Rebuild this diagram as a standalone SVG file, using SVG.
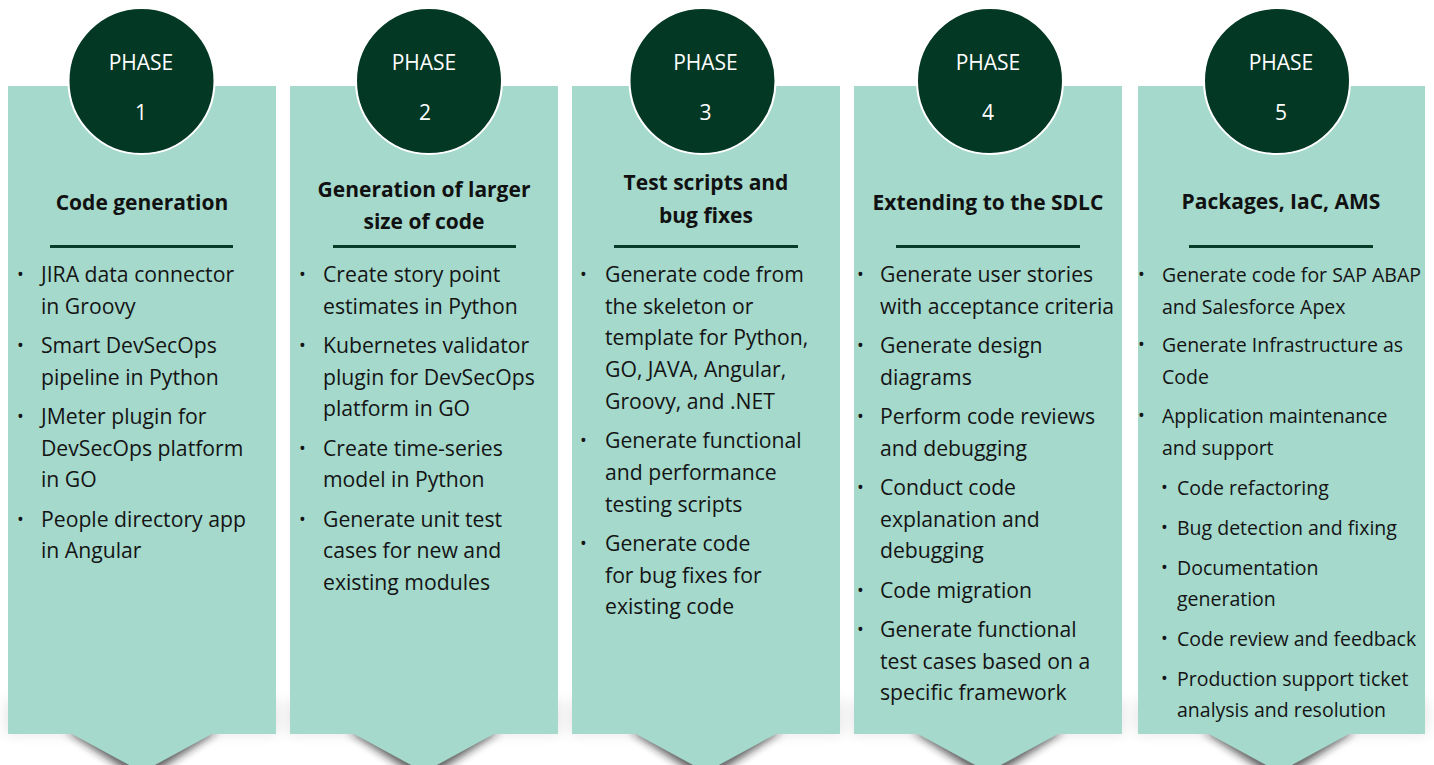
<svg xmlns="http://www.w3.org/2000/svg" width="1434" height="765" viewBox="0 0 1434 765">
  <defs>
    <style>
      .panel{fill:#A4D9CC}
      .shade{fill:#1e1e1e;opacity:.7;filter:url(#soft)}
      .haze{fill:#000;opacity:.10;filter:url(#wide)}
      .disc{fill:#033824;stroke:#ffffff;stroke-width:2}
      .ph{font-family:"Open Sans",sans-serif;font-size:21px;fill:#ffffff;text-anchor:middle}
      .ttl{font-family:"Open Sans",sans-serif;font-weight:700;font-size:21px;fill:#111111;text-anchor:middle}
      .rule{stroke:#063D29;stroke-width:3}
      .body{font-family:"Open Sans",sans-serif;font-size:21.2px;fill:#141414}
      .b5{font-size:19.5px}
      .dot{font-family:"Open Sans",sans-serif;font-size:18px;fill:#141414}
    </style>
    <filter id="soft" x="-30%" y="-50%" width="160%" height="200%">
      <feGaussianBlur stdDeviation="4.5"/>
    </filter>
    <filter id="wide" x="-20%" y="-100%" width="140%" height="300%">
      <feGaussianBlur stdDeviation="7"/>
    </filter>
  </defs>

  <rect width="1434" height="765" fill="#ffffff"/>

  <!-- Phase 1 -->
  <g id="phase1">
    <rect class="haze" x="6" y="700" width="272" height="34"/>
    <path class="shade" d="M66 731 L142 781 L218 731 Z"/>
    <path class="panel" d="M8 86 H276 V734 H212 L142 772 L72 734 H8 Z"/>
    <circle class="disc" cx="141.5" cy="81" r="73"/>
    <text class="ph" x="141" y="70">PHASE</text>
    <text class="ph" x="141" y="120">1</text>
    <text class="ttl" x="142" y="209.5">Code generation</text>
    <line class="rule" x1="50" y1="246.5" x2="233" y2="246.5"/>
    <g class="dot">
      <text x="17" y="281">•</text>
      <text x="17" y="352">•</text>
      <text x="17" y="423">•</text>
      <text x="17" y="525.7">•</text>
    </g>
    <text class="body">
      <tspan x="41" y="282">JIRA data connector</tspan>
      <tspan x="41" y="313.7">in Groovy</tspan>
      <tspan x="41" y="353">Smart DevSecOps</tspan>
      <tspan x="41" y="384.7">pipeline in Python</tspan>
      <tspan x="41" y="424">JMeter plugin for</tspan>
      <tspan x="41" y="455.7">DevSecOps platform</tspan>
      <tspan x="41" y="487.4">in GO</tspan>
      <tspan x="41" y="526.7">People directory app</tspan>
      <tspan x="41" y="558.4">in Angular</tspan>
    </text>
  </g>

  <!-- Phase 2 -->
  <g id="phase2">
    <rect class="haze" x="288" y="700" width="272" height="34"/>
    <path class="shade" d="M348 731 L424 781 L500 731 Z"/>
    <path class="panel" d="M290 86 H558 V734 H494 L424 772 L354 734 H290 Z"/>
    <circle class="disc" cx="429" cy="81" r="73"/>
    <text class="ph" x="424" y="70">PHASE</text>
    <text class="ph" x="425" y="120">2</text>
    <text class="ttl" x="424" y="196.5">Generation of larger</text>
    <text class="ttl" x="424" y="228.5">size of code</text>
    <line class="rule" x1="333" y1="246.5" x2="516" y2="246.5"/>
    <g class="dot">
      <text x="299" y="281">•</text>
      <text x="299" y="352">•</text>
      <text x="299" y="454.7">•</text>
      <text x="299" y="525.7">•</text>
    </g>
    <text class="body">
      <tspan x="323" y="282">Create story point</tspan>
      <tspan x="323" y="313.7">estimates in Python</tspan>
      <tspan x="323" y="353">Kubernetes validator</tspan>
      <tspan x="323" y="384.7">plugin for DevSecOps</tspan>
      <tspan x="323" y="416.4">platform in GO</tspan>
      <tspan x="323" y="455.7">Create time-series</tspan>
      <tspan x="323" y="487.4">model in Python</tspan>
      <tspan x="323" y="526.7">Generate unit test</tspan>
      <tspan x="323" y="558.4">cases for new and</tspan>
      <tspan x="323" y="590.1">existing modules</tspan>
    </text>
  </g>

  <!-- Phase 3 -->
  <g id="phase3">
    <rect class="haze" x="570" y="700" width="272" height="34"/>
    <path class="shade" d="M630 731 L706 781 L782 731 Z"/>
    <path class="panel" d="M572 86 H840 V734 H776 L706 772 L636 734 H572 Z"/>
    <circle class="disc" cx="702.5" cy="81" r="73"/>
    <text class="ph" x="705.5" y="70">PHASE</text>
    <text class="ph" x="705.5" y="120">3</text>
    <text class="ttl" x="706" y="190">Test scripts and</text>
    <text class="ttl" x="706" y="222.5">bug fixes</text>
    <line class="rule" x1="614" y1="246.5" x2="798" y2="246.5"/>
    <g class="dot">
      <text x="580" y="281">•</text>
      <text x="580" y="447.1">•</text>
      <text x="580" y="549.8">•</text>
    </g>
    <text class="body">
      <tspan x="605" y="282">Generate code from</tspan>
      <tspan x="605" y="313.7">the skeleton or</tspan>
      <tspan x="605" y="345.4">template for Python,</tspan>
      <tspan x="605" y="377.1">GO, JAVA, Angular,</tspan>
      <tspan x="605" y="408.8">Groovy, and .NET</tspan>
      <tspan x="605" y="448.1">Generate functional</tspan>
      <tspan x="605" y="479.8">and performance</tspan>
      <tspan x="605" y="511.5">testing scripts</tspan>
      <tspan x="605" y="550.8">Generate code</tspan>
      <tspan x="605" y="582.5">for bug fixes for</tspan>
      <tspan x="605" y="614.2">existing code</tspan>
    </text>
  </g>

  <!-- Phase 4 -->
  <g id="phase4">
    <rect class="haze" x="852" y="700" width="272" height="34"/>
    <path class="shade" d="M912 731 L988 781 L1064 731 Z"/>
    <path class="panel" d="M854 86 H1122 V734 H1058 L988 772 L918 734 H854 Z"/>
    <circle class="disc" cx="990" cy="81" r="73"/>
    <text class="ph" x="988" y="70">PHASE</text>
    <text class="ph" x="988" y="120">4</text>
    <text class="ttl" x="988" y="209.5">Extending to the SDLC</text>
    <line class="rule" x1="896" y1="246.5" x2="1080" y2="246.5"/>
    <g class="dot">
      <text x="857" y="281">•</text>
      <text x="857" y="352">•</text>
      <text x="857" y="423">•</text>
      <text x="857" y="494">•</text>
      <text x="857" y="596.7">•</text>
      <text x="857" y="636">•</text>
    </g>
    <text class="body">
      <tspan x="880" y="282">Generate user stories</tspan>
      <tspan x="880" y="313.7">with acceptance criteria</tspan>
      <tspan x="880" y="353">Generate design</tspan>
      <tspan x="880" y="384.7">diagrams</tspan>
      <tspan x="880" y="424">Perform code reviews</tspan>
      <tspan x="880" y="455.7">and debugging</tspan>
      <tspan x="880" y="495">Conduct code</tspan>
      <tspan x="880" y="526.7">explanation and</tspan>
      <tspan x="880" y="558.4">debugging</tspan>
      <tspan x="880" y="597.7">Code migration</tspan>
      <tspan x="880" y="637">Generate functional</tspan>
      <tspan x="880" y="668.7">test cases based on a</tspan>
      <tspan x="880" y="700.4">specific framework</tspan>
    </text>
  </g>

  <!-- Phase 5 -->
  <g id="phase5">
    <rect class="haze" x="1136" y="700" width="291" height="34"/>
    <path class="shade" d="M1203 731 L1279 781 L1355 731 Z"/>
    <path class="panel" d="M1138 86 H1425 V734 H1349 L1279 772 L1209 734 H1138 Z"/>
    <circle class="disc" cx="1277" cy="81" r="73"/>
    <text class="ph" x="1281" y="70">PHASE</text>
    <text class="ph" x="1281" y="120">5</text>
    <text class="ttl" x="1281" y="208.5">Packages, IaC, AMS</text>
    <line class="rule" x1="1189" y1="246.5" x2="1373" y2="246.5"/>
    <g class="dot">
      <text x="1138" y="281">•</text>
      <text x="1138" y="351">•</text>
      <text x="1138" y="422">•</text>
      <text x="1161" y="493.5">•</text>
      <text x="1161" y="533.5">•</text>
      <text x="1161" y="573.5">•</text>
      <text x="1161" y="644.5">•</text>
      <text x="1161" y="684.5">•</text>
    </g>
    <text class="body b5">
      <tspan x="1162" y="282">Generate code for SAP ABAP</tspan>
      <tspan x="1162" y="313.5">and Salesforce Apex</tspan>
      <tspan x="1162" y="352">Generate Infrastructure as</tspan>
      <tspan x="1162" y="383.5">Code</tspan>
      <tspan x="1162" y="423">Application maintenance</tspan>
      <tspan x="1162" y="454.5">and support</tspan>
      <tspan x="1177" y="494.5">Code refactoring</tspan>
      <tspan x="1177" y="534.5">Bug detection and fixing</tspan>
      <tspan x="1177" y="574.5">Documentation</tspan>
      <tspan x="1177" y="606">generation</tspan>
      <tspan x="1177" y="645.5">Code review and feedback</tspan>
      <tspan x="1177" y="685.5">Production support ticket</tspan>
      <tspan x="1177" y="717">analysis and resolution</tspan>
    </text>
  </g>
</svg>
